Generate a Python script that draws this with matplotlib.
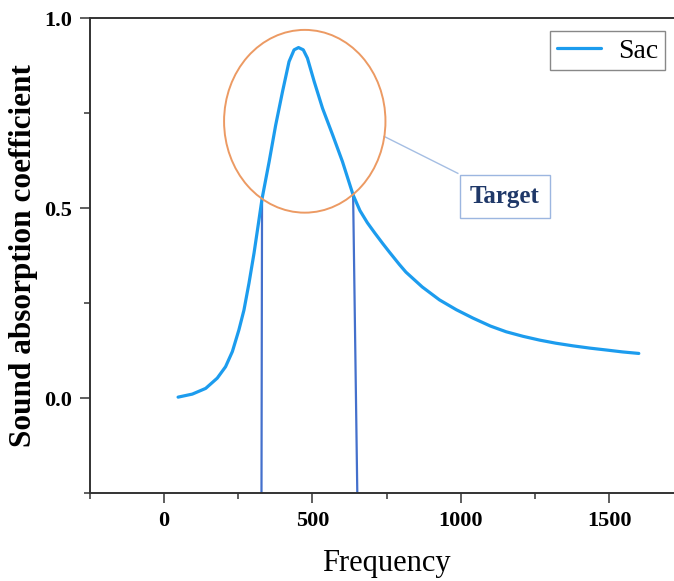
import matplotlib.pyplot as plt
from matplotlib.patches import Ellipse

# Data
freq = [47, 95, 140, 179, 207, 230, 252, 269, 286, 303, 318, 330, 354, 376,
        399, 421, 438, 453, 469, 483, 506, 534, 568, 601, 637, 660, 685, 710,
        737, 759, 793, 815, 870, 928, 985, 1041, 1100, 1153, 1210, 1266,
        1320, 1378, 1435, 1491, 1545, 1600]
sac = [0.003, 0.011, 0.026, 0.053, 0.083, 0.123, 0.18, 0.232, 0.303, 0.382,
       0.461, 0.525, 0.623, 0.719, 0.807, 0.886, 0.917, 0.923, 0.917, 0.895,
       0.833, 0.763, 0.693, 0.623, 0.535, 0.494, 0.462, 0.435, 0.407, 0.385,
       0.352, 0.332, 0.293, 0.259, 0.233, 0.211, 0.19, 0.175, 0.163, 0.153,
       0.145, 0.138, 0.132, 0.127, 0.122, 0.118]

# band edges (x at curve, x at bottom), level
band_left = (330, 328)
band_right = (637, 652)
band_level = [0.525, 0.535]

# highlight ellipse (center x, center y, width, height)
target_center = (474, 0.729)
target_size = (544, 0.481)

x_ticks = [0, 500, 1000, 1500]
y_ticks = [0.0, 0.5, 1.0]

plt.rcParams['font.family'] = ['Liberation Serif', 'DejaVu Serif']

fig = plt.figure(figsize=(6.74, 5.81), dpi=100)
ax = fig.add_axes([0.1335, 0.151, 0.8803, 0.8175])

curve_color = '#1C9CEE'
ax.plot(freq, sac, color=curve_color, lw=2.3, label='Sac', zorder=3,
        solid_capstyle='round', solid_joinstyle='round')

# vertical band lines
ax.plot([band_left[0], band_left[1]], [band_level[0], -0.3],
        color='#4470CC', lw=1.6, zorder=2)
ax.plot([band_right[0], band_right[1]], [band_level[1], -0.3],
        color='#4470CC', lw=1.6, zorder=2)

# target ellipse
ell = Ellipse(target_center, target_size[0], target_size[1], fill=False,
              edgecolor='#EC9A63', lw=1.4, zorder=4)
ax.add_patch(ell)

# leader line and label
ax.plot([742, 990], [0.689, 0.592], color='#A5BEE3', lw=1.0, zorder=2)
ax.text(1148, 0.532, 'Target', fontsize=18, fontweight='bold',
        color='#1F3868', ha='center', va='center', zorder=5,
        bbox=dict(boxstyle='square,pad=0.4', facecolor='white',
                  edgecolor='#9CB6E0', lw=1.0))

ax.set_xlim(-250, 1750)
ax.set_ylim(-0.25, 1.0)
ax.set_xticks(x_ticks)
ax.set_yticks(y_ticks)
ax.set_xticks([-250, 250, 750, 1250], minor=True)
ax.set_yticks([-0.25, 0.25, 0.75], minor=True)
ax.set_xticklabels([str(v) for v in x_ticks])
ax.set_yticklabels(['%.1f' % v for v in y_ticks])

for lab in ax.get_xticklabels() + ax.get_yticklabels():
    lab.set_fontweight('bold')
    lab.set_fontsize(16)

ax.tick_params(which='major', direction='out', length=7, width=1.1,
               color='#333333', pad=6)
ax.tick_params(which='minor', direction='out', length=4, width=1.1,
               color='#333333')

for side in ['left', 'bottom', 'top']:
    ax.spines[side].set_linewidth(1.4)
    ax.spines[side].set_color('#333333')
ax.spines['right'].set_visible(False)

ax.set_xlabel('Frequency', fontsize=22)
ax.set_ylabel('Sound absorption coefficient', fontsize=22.5, fontweight='bold')
ax.yaxis.set_label_coords(-0.088, 0.5)
ax.xaxis.set_label_coords(0.5, -0.118)

leg = ax.legend(loc='upper right', bbox_to_anchor=(0.969, 0.973),
                fontsize=20, handlelength=1.6, handletextpad=0.6,
                borderpad=0.25, borderaxespad=0, fancybox=False,
                framealpha=1)
leg.get_frame().set_edgecolor('#888888')
leg.get_frame().set_linewidth(1.0)

fig.savefig('out.png', dpi=100)
